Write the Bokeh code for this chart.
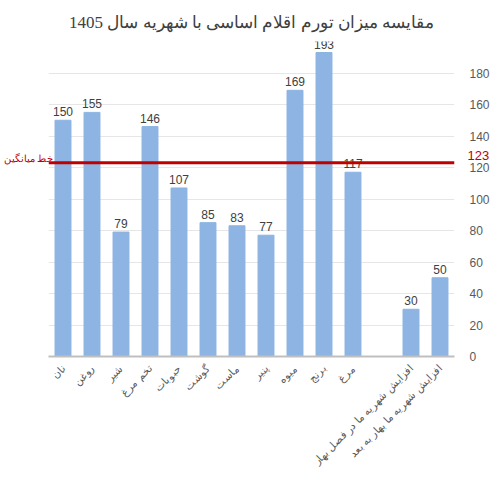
from bokeh.plotting import figure
from bokeh.models import ColumnDataSource, FixedTicker, Span, LinearAxis, Title, Range1d
from bokeh.embed import file_html
from bokeh.resources import INLINE
from bokeh.core.properties import value
import math

categories = ["نان", "روغن", "شیر", "تخم مرغ", "حبوبات", "گوشت", "ماست", "پنیر",
              "میوه", "برنج", "مرغ", " ", "افزایش شهریه ما در فصل بهار", "افزایش شهریه ما بهار به بعد"]
values = [150, 155, 79, 146, 107, 85, 83, 77, 169, 193, 117, None, 30, 50]
average = 123
y_ticks = [0, 20, 40, 60, 80, 100, 120, 140, 160, 180]
title_text = "مقایسه میزان تورم اقلام اساسی با شهریه سال 1405"
avg_label = "خط میانگین"

cats = [c for c, v in zip(categories, values) if v is not None]
vals = [v for v in values if v is not None]
src = ColumnDataSource(dict(x=cats, top=vals, lab=[str(v) for v in vals]))

FW, FH = 406, 315

p = figure(x_range=categories, y_range=Range1d(0, 200), frame_width=FW, frame_height=FH,
           output_backend="svg", toolbar_location=None, y_axis_location="right",
           min_border_left=0, min_border_right=40, min_border_top=14, min_border_bottom=0)
# shifted ranges used only to lift the red labels slightly above their line
p.extra_y_ranges = {"lab": Range1d(-4.5, 195.5), "lab2": Range1d(-2.5, 197.5)}

p.title = Title(text=title_text, align="center", text_font="Liberation Serif",
                text_font_size="17px", text_font_style="normal", text_color="#404040",
                standoff=20)

p.vbar(x="x", top="top", width=0.55, source=src, color="#8DB4E2")
p.text(x="x", y="top", text="lab", source=src, text_align="center", text_baseline="bottom",
       y_offset=-4, text_font=value("Liberation Sans"), text_font_size="12px", text_color="#404040")

p.add_layout(Span(location=average, dimension="width", line_color="#C00000", line_width=3))

def style_axis(a, color, size, standoff):
    a.axis_line_color = None
    a.major_tick_line_color = None
    a.minor_tick_line_color = None
    a.major_tick_out = 0
    a.major_tick_in = 0
    a.axis_label_standoff = 0
    a.major_label_text_font = "Liberation Sans"
    a.major_label_text_font_size = size
    a.major_label_text_color = color
    a.major_label_standoff = standoff

ax = p.yaxis[0]
ax.ticker = FixedTicker(ticks=y_ticks)
style_axis(ax, "#595959", "12px", 15)

left_ax = LinearAxis(y_range_name="lab2", ticker=FixedTicker(ticks=[average]),
                     major_label_overrides={average: avg_label})
style_axis(left_ax, "#C00000", "10px", -5)
p.add_layout(left_ax, "left")

red_ax = LinearAxis(y_range_name="lab", ticker=FixedTicker(ticks=[average]),
                    major_label_overrides={average: str(average)})
style_axis(red_ax, "#C00000", "13px", -25)
p.add_layout(red_ax, "right")

xa = p.xaxis[0]
style_axis(xa, "#595959", "10.5px", 10)
xa.axis_line_color = "#BFBFBF"
xa.axis_line_width = 2
xa.major_label_orientation = math.pi / 4

p.xgrid.grid_line_color = None
p.ygrid.grid_line_color = "#E6E6E6"
p.ygrid.ticker = FixedTicker(ticks=y_ticks)
p.outline_line_color = None
p.x_range.range_padding = 0

open("out.html", "w").write(file_html(p, INLINE))
